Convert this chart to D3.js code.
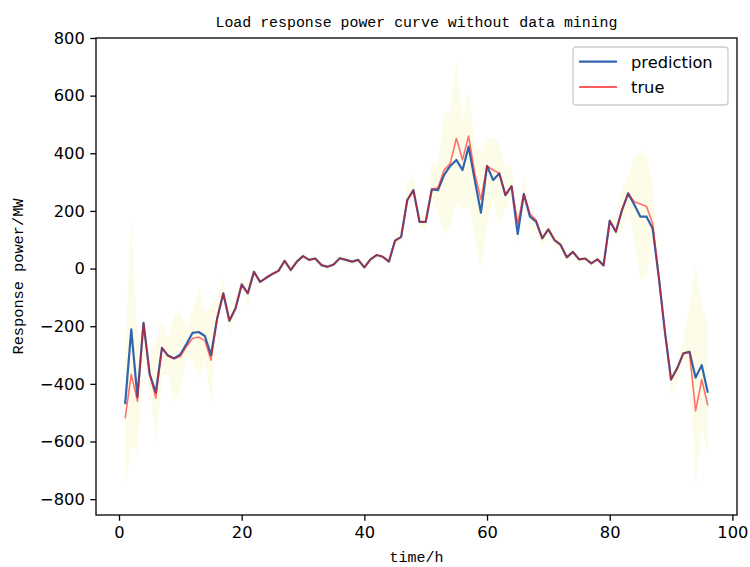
<!DOCTYPE html>
<html>
<head>
<meta charset="utf-8">
<script src="https://cdn.jsdelivr.net/npm/d3@7"></script>
<style>
  body { margin: 0; background: #fff; }
  .tick text { font-family: 'DejaVu Sans', sans-serif; font-size: 16.3px; fill: #000; }
  .cjk { font-family: 'Liberation Mono', 'DejaVu Sans Mono', monospace; fill: #000; }
</style>
</head>
<body>
<svg id="chart" width="750" height="567"></svg>
<script>
// hourly points 1..96
var prediction = [-470, -211, -445, -188, -366, -430, -275, -302, -312, -298,
  -262, -223, -220, -234, -300, -173, -86, -181, -138, -55,
  -86, -11, -46, -32, -19, -8, 27, -5, 24, 43,
  30, 35, 12, 6, 14, 36, 30, 24, 30, 4,
  32, 47, 41, 24, 97, 110, 238, 272, 162, 162,
  275, 272, 325, 356, 377, 342, 423, 307, 194, 356,
  307, 330, 255, 286, 120, 259, 180, 163, 105, 136,
  99, 82, 39, 58, 32, 35, 18, 32, 11, 166,
  128, 203, 261, 222, 180, 180, 139, -30, -220, -385,
  -346, -294, -289, -378, -335, -431];

var trueVals = [-520, -367, -460, -188, -366, -450, -275, -304, -312, -305,
  -270, -242, -238, -250, -318, -173, -86, -181, -138, -55,
  -86, -11, -46, -32, -19, -8, 27, -5, 24, 43,
  30, 35, 12, 6, 14, 36, 30, 24, 30, 4,
  32, 47, 41, 24, 97, 110, 238, 272, 162, 162,
  275, 280, 342, 365, 452, 377, 460, 330, 240, 356,
  342, 330, 255, 286, 157, 259, 190, 168, 105, 136,
  99, 82, 39, 58, 32, 35, 18, 32, 11, 166,
  128, 203, 261, 232, 224, 215, 157, -30, -220, -385,
  -346, -294, -289, -494, -385, -475];

var upper = [-300, 180, -250, -180, -294, -260, -180, -248, -161, -150,
  -213, -144, -69, -150, -133, -98, -34, -150, -98, -34,
  -51, -5, -38, -22, -10, 2, 38, 5, 34, 55,
  40, 45, 22, 16, 24, 46, 40, 34, 40, 14,
  42, 57, 51, 34, 115, 135, 290, 330, 190, 180,
  359, 359, 539, 539, 718, 515, 620, 434, 400, 446,
  457, 434, 350, 359, 168, 319, 197, 165, 122, 160,
  120, 100, 55, 72, 46, 48, 30, 44, 24, 180,
  165, 272, 325, 388, 405, 388, 296, 0, -200, -363,
  -329, -248, -133, 12, -121, -202];

var lower = [-760, -610, -640, -290, -420, -600, -375, -364, -462, -422,
  -306, -318, -375, -323, -462, -185, -109, -231, -157, -75,
  -138, -17, -55, -40, -28, -18, 15, -15, 14, 32,
  20, 25, 3, -4, 4, 26, 20, 14, 20, -6,
  22, 37, 31, 14, 80, 95, 220, 250, 140, 135,
  238, 191, 122, 145, 230, 203, 215, 110, -5, 145,
  238, 157, 205, 250, 87, 238, 145, 122, 76, 115,
  80, 65, 25, 44, 18, 22, 6, 20, -2, 157,
  110, 134, 200, 100, -40, -30, 100, -60, -240, -445,
  -398, -310, -352, -757, -560, -641];

var xTicks = [0, 20, 40, 60, 80, 100];
var yTicks = [-800, -600, -400, -200, 0, 200, 400, 600, 800];

var margin = {top: 38, right: 13, bottom: 52, left: 96},
    width = 750 - margin.left - margin.right,
    height = 567 - margin.top - margin.bottom;

var svg = d3.select('#chart');
var g = svg.append('g')
    .attr('transform', 'translate(' + margin.left + ',' + margin.top + ')');

var x = d3.scaleLinear().domain([-3.75, 100.75]).range([0, width]);
var y = d3.scaleLinear().domain([-855, 800]).range([height, 0]);

var rows = prediction.map(function(p, i) {
  return {t: i + 1, pred: p, real: trueVals[i], hi: upper[i], lo: lower[i]};
});

// uncertainty band
g.append('path')
    .datum(rows)
    .attr('fill', '#fafad2')
    .attr('fill-opacity', 0.5)
    .attr('d', d3.area()
      .x(function(d) { return x(d.t); })
      .y0(function(d) { return y(d.lo); })
      .y1(function(d) { return y(d.hi); }));

var predLine = d3.line()
    .x(function(d) { return x(d.t); })
    .y(function(d) { return y(d.pred); });
var realLine = d3.line()
    .x(function(d) { return x(d.t); })
    .y(function(d) { return y(d.real); });

g.append('path')
    .datum(rows)
    .attr('fill', 'none')
    .attr('stroke', '#3164ae')
    .attr('stroke-width', 2.2)
    .attr('stroke-linejoin', 'round')
    .attr('d', predLine);

g.append('path')
    .datum(rows)
    .attr('fill', 'none')
    .attr('stroke', '#ff0000')
    .attr('stroke-opacity', 0.55)
    .attr('stroke-width', 1.6)
    .attr('stroke-linejoin', 'round')
    .attr('d', realLine);

// axes
var xAxis = g.append('g')
    .attr('transform', 'translate(0,' + height + ')')
    .call(d3.axisBottom(x).tickValues(xTicks).tickSize(5.7).tickPadding(5.5).tickFormat(d3.format('d')));
var yAxis = g.append('g')
    .call(d3.axisLeft(y).tickValues(yTicks).tickSize(5.7).tickPadding(5.5).tickFormat(d3.format('d')));

[xAxis, yAxis].forEach(function(a) {
  a.select('.domain').remove();
  a.selectAll('.tick line').attr('stroke', '#000').attr('stroke-width', 1.3);
});

g.append('rect')
    .attr('width', width)
    .attr('height', height)
    .attr('fill', 'none')
    .attr('stroke', '#000')
    .attr('stroke-width', 1.3);

// titles
svg.append('text')
    .attr('class', 'cjk')
    .attr('x', margin.left + width / 2)
    .attr('y', 27)
    .attr('text-anchor', 'middle')
    .attr('font-size', 14.9)
    .attr('textLength', 402)
    .attr('lengthAdjust', 'spacingAndGlyphs')
    .text('Load response power curve without data mining');

svg.append('text')
    .attr('class', 'cjk')
    .attr('x', margin.left + width / 2)
    .attr('y', 562)
    .attr('text-anchor', 'middle')
    .attr('font-size', 14.9)
    .attr('textLength', 54)
    .attr('lengthAdjust', 'spacingAndGlyphs')
    .text('time/h');

svg.append('text')
    .attr('class', 'cjk')
    .attr('transform', 'translate(23,' + (margin.top + height / 2) + ') rotate(-90)')
    .attr('text-anchor', 'middle')
    .attr('font-size', 14.9)
    .attr('textLength', 156)
    .attr('lengthAdjust', 'spacingAndGlyphs')
    .text('Response power/MW');

// legend
var legend = svg.append('g').attr('transform', 'translate(573,47)');
legend.append('rect')
    .attr('width', 155)
    .attr('height', 58)
    .attr('rx', 3)
    .attr('fill', '#fff')
    .attr('fill-opacity', 0.8)
    .attr('stroke', '#cccccc')
    .attr('stroke-width', 1.3);

var items = [
  {label: 'prediction', color: '#3164ae', op: 1, w: 2.2, dy: 14.7},
  {label: 'true', color: '#ff0000', op: 0.85, w: 1.6, dy: 40}
];
var item = legend.selectAll('g.item')
    .data(items)
  .enter().append('g')
    .attr('class', 'item')
    .attr('transform', function(d) { return 'translate(0,' + d.dy + ')'; });
item.append('line')
    .attr('x1', 6).attr('x2', 44)
    .attr('stroke', function(d) { return d.color; })
    .attr('stroke-opacity', function(d) { return d.op; })
    .attr('stroke-width', function(d) { return d.w; });
item.append('text')
    .attr('x', 58)
    .attr('y', 5.8)
    .attr('font-family', 'DejaVu Sans, sans-serif')
    .attr('font-size', 16.3)
    .text(function(d) { return d.label; });
</script>
</body>
</html>
